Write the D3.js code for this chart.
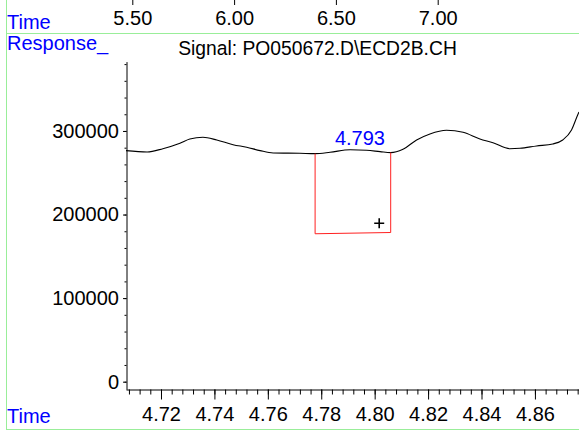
<!DOCTYPE html>
<html>
<head>
<meta charset="utf-8">
<script src="https://cdn.jsdelivr.net/npm/d3@7"></script>
<style>
  html, body { margin: 0; padding: 0; background: #fff; }
  svg { display: block; font-family: Arial, "Liberation Sans", sans-serif; }
</style>
</head>
<body>
<svg id="chart" width="579" height="430"></svg>
<script>
// ---------- data ----------
const topTimeTicks = [5.50, 6.00, 6.50, 7.00];
const bottomTimeTicks = [4.72, 4.74, 4.76, 4.78, 4.80, 4.82, 4.84, 4.86];
const responseTicks = [0, 100000, 200000, 300000];
const titleText = "Signal: PO050672.D\\ECD2B.CH";

const signalTime = [4.7069, 4.7148, 4.7207, 4.7271, 4.7308, 4.7357, 4.7409, 4.7470, 4.7521, 4.7571,
  4.7620, 4.7720, 4.7777, 4.7833, 4.7908, 4.7970, 4.8020, 4.8060, 4.8106, 4.8157,
  4.8207, 4.8269, 4.8331, 4.8394, 4.8443, 4.8506, 4.8544, 4.8606, 4.8667, 4.8704,
  4.8737, 4.8760, 4.8765];
const signalResponse = [276500, 274900, 278800, 285300, 290400, 292500, 289200, 283600, 280500, 276500,
  273700, 273300, 272900, 274500, 277600, 276900, 275300, 274100, 278100, 289200,
  296400, 300800, 298400, 290400, 286000, 278800, 279300, 282100, 284500, 289200,
  301200, 319100, 322700];

// integration baseline (start / end) and peak label
const baseTime = [4.7777, 4.8060];
const baseResponse = [177000, 178500];
const peakLabel = "4.793";
const peakLabelTime = 4.7945;
const peakLabelResponse = 283000;
const cursorTime = 4.8017;
const cursorResponse = 189500;

// ---------- scales ----------
const svg = d3.select("#chart");
const W = 579, H = 430;

const xTop = d3.scaleLinear().domain([5.50, 7.00]).range([132.3, 437.7]);
const x = d3.scaleLinear().domain([4.7069, 4.8765]).range([126, 579]);
const y = d3.scaleLinear().domain([-9000, 383000]).range([389.2, 61.6]);

// ---------- frame lines ----------
const green = "#99ee99";
svg.append("line").attr("x1", 6).attr("x2", W).attr("y1", 33.5).attr("y2", 33.5)
  .attr("stroke", green).attr("stroke-width", 1);
svg.append("line").attr("x1", 6.5).attr("x2", 6.5).attr("y1", 0).attr("y2", H)
  .attr("stroke", green).attr("stroke-width", 1);
svg.append("line").attr("x1", 6).attr("x2", W).attr("y1", 429.5).attr("y2", 429.5)
  .attr("stroke", green).attr("stroke-width", 1);

// ---------- top time axis ----------
const topAxis = svg.append("g").attr("transform", "translate(0,0)")
  .call(d3.axisBottom(xTop).tickValues(topTimeTicks).tickSize(5).tickPadding(6)
    .tickFormat(d3.format(".2f")));
topAxis.select(".domain").remove();
topAxis.selectAll("text").attr("font-size", 20).attr("fill", "#000").attr("font-family", "Arial, 'Liberation Sans', sans-serif");
topAxis.selectAll("line").attr("stroke", "#000");

// ---------- labels ----------
svg.append("text").attr("x", 7).attr("y", 28.5).text("Time")
  .attr("fill", "#0000ff").attr("font-size", 20);
svg.append("text").attr("x", 7).attr("y", 50).text("Response_")
  .attr("fill", "#0000ff").attr("font-size", 20);
svg.append("text").attr("x", 7).attr("y", 423).text("Time")
  .attr("fill", "#0000ff").attr("font-size", 20);
svg.append("text").attr("x", 317.5).attr("y", 55).attr("text-anchor", "middle")
  .text(titleText).attr("fill", "#000").attr("font-size", 19.3);

// ---------- y axis ----------
const yMinor = svg.append("g").attr("transform", "translate(126.5,0)")
  .call(d3.axisLeft(y).tickValues(d3.range(0, 383000, 20000)).tickSize(2).tickSizeOuter(0).tickFormat(""));
yMinor.selectAll("line").attr("stroke", "#000");
yMinor.select(".domain").attr("stroke", "#000");
const yMajor = svg.append("g").attr("transform", "translate(126.5,0)")
  .call(d3.axisLeft(y).tickValues(responseTicks).tickSize(3.5).tickPadding(4).tickFormat(d3.format("d")));
yMajor.select(".domain").remove();
yMajor.selectAll("line").attr("stroke", "#000");
yMajor.selectAll("text").attr("font-size", 20).attr("fill", "#000").attr("font-family", "Arial, 'Liberation Sans', sans-serif");

// ---------- x axis ----------
const minorVals = d3.range(4.708, 4.877, 0.004);
const xMinor = svg.append("g").attr("transform", "translate(0,389.5)")
  .call(d3.axisBottom(x).tickValues(minorVals).tickSize(5).tickSizeOuter(0).tickFormat(""));
xMinor.selectAll("line").attr("stroke", "#000");
xMinor.select(".domain").attr("stroke", "#000");
const xMajor = svg.append("g").attr("transform", "translate(0,389.5)")
  .call(d3.axisBottom(x).tickValues(bottomTimeTicks).tickSize(10).tickPadding(7).tickFormat(d3.format(".2f")));
xMajor.select(".domain").remove();
xMajor.selectAll("line").attr("stroke", "#000");
xMajor.selectAll("text").attr("font-size", 20).attr("fill", "#000").attr("font-family", "Arial, 'Liberation Sans', sans-serif");

// ---------- signal ----------
const signalData = signalTime.map((t, i) => ({ t, r: signalResponse[i] }));
svg.append("path").datum(signalData)
  .attr("d", d3.line().x(d => x(d.t)).y(d => y(d.r)).curve(d3.curveMonotoneX))
  .attr("fill", "none").attr("stroke", "#000").attr("stroke-width", 1.1);

// ---------- integration baseline box ----------
const bisect = d3.bisector(d => d.t).left;
function signalAt(t) {
  const i = Math.max(1, Math.min(signalData.length - 1, bisect(signalData, t)));
  const a = signalData[i - 1], b = signalData[i];
  return a.r + (b.r - a.r) * (t - a.t) / (b.t - a.t);
}
const boxPts = [
  [baseTime[0], signalAt(baseTime[0])],
  [baseTime[0], baseResponse[0]],
  [baseTime[1], baseResponse[1]],
  [baseTime[1], signalAt(baseTime[1])]
];
svg.append("path")
  .attr("d", d3.line().x(d => x(d[0])).y(d => y(d[1]))(boxPts))
  .attr("fill", "none").attr("stroke", "#ff2020").attr("stroke-width", 1);

// peak label
svg.append("text").attr("x", x(peakLabelTime)).attr("y", y(peakLabelResponse))
  .attr("text-anchor", "middle").text(peakLabel)
  .attr("fill", "#0000ff").attr("font-size", 20);

// cursor +
const cx = x(cursorTime), cy = y(cursorResponse);
svg.append("path")
  .attr("d", `M${cx - 5},${cy}H${cx + 5}M${cx},${cy - 5}V${cy + 5}`)
  .attr("stroke", "#000").attr("stroke-width", 1.6);
</script>
</body>
</html>
